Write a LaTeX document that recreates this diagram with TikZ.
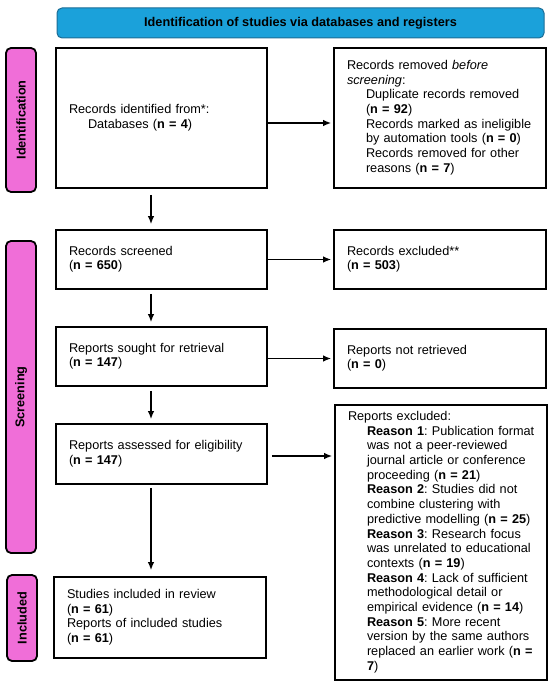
\documentclass[tikz,border=0pt]{standalone}
\usepackage{fontspec}
\setmainfont{Liberation Sans}
\usetikzlibrary{arrows.meta}
\definecolor{hdrblue}{HTML}{1BA1DA}
\definecolor{hdredge}{HTML}{1B6D96}
\definecolor{sidepink}{HTML}{F06ED8}
\newcommand{\ind}{\hspace*{19pt}}
\newcommand{\tb}[1]{\begin{tabular}{@{}l@{}}#1\end{tabular}}
\tikzset{
  txt/.style={font=\fontsize{12.7}{14.7}\selectfont\frenchspacing},
  box/.style={txt, draw=black, line width=1.7pt, fill=white, inner sep=0pt, align=left},
  side/.style={draw=black, line width=1.8pt, fill=sidepink, rounded corners=5pt, rotate=90,
    font=\fontsize{12.7}{14.7}\selectfont\bfseries, inner sep=0pt, minimum height=30pt},
  hdr/.style={draw=hdredge, line width=1pt, fill=hdrblue, rounded corners=5pt,
    font=\fontsize{12.7}{14.7}\selectfont\bfseries, inner sep=0pt},
  arr/.style={line width=1.4pt, -{Latex[length=8pt,width=6.5pt]}}
}
\begin{document}
\begin{tikzpicture}[x=1pt,y=-1pt]
\useasboundingbox (0,0) rectangle (550,687);
% header
\node[hdr, minimum width=487pt, minimum height=30pt] (hdr) at (300.5,23) {Identification of studies via databases and registers};
% side labels
\node[side, minimum width=144pt] (lid) at (21,120) {Identification};
\node[side, minimum width=312pt] (lsc) at (21,397) {Screening};
\node[side, minimum width=86pt] (lin) at (22,618) {Included};
% left column
\node[box, minimum width=211pt, minimum height=140pt, text width=185pt] (b1) at (161.5,118)
  {\tb{Records identified from*:\\\ind Databases (\textbf{n = 4})}};
\node[box, minimum width=211pt, minimum height=59pt, text width=185pt] (b2) at (161.5,259.5)
  {\tb{Records screened\\(\textbf{n = 650})}};
\node[box, minimum width=211pt, minimum height=59pt, text width=185pt] (b3) at (161.5,356.5)
  {\tb{Reports sought for retrieval\\(\textbf{n = 147})}};
\node[box, minimum width=211pt, minimum height=60pt, text width=185pt] (b4) at (161.5,454)
  {\tb{Reports assessed for eligibility\\(\textbf{n = 147})}};
\node[box, minimum width=212pt, minimum height=81pt, text width=186pt] (b5) at (160,617.5)
  {\tb{Studies included in review\\(\textbf{n = 61})\\Reports of included studies\\(\textbf{n = 61})}};
% right column
\node[box, minimum width=212pt, minimum height=140pt, text width=186pt] (r1) at (440,118)
  {\tb{Records removed \textit{before}\\\textit{screening}:\\
   \ind Duplicate records removed\\\ind (\textbf{n = 92})\\
   \ind Records marked as ineligible\\\ind by automation tools (\textbf{n = 0})\\
   \ind Records removed for other\\\ind reasons (\textbf{n = 7})}};
\node[box, minimum width=212pt, minimum height=59pt, text width=186pt] (r2) at (440,259.5)
  {\tb{Records excluded**\\(\textbf{n = 503})}};
\node[box, minimum width=212pt, minimum height=59pt, text width=186pt] (r3) at (440,358.5)
  {\tb{Reports not retrieved\\(\textbf{n = 0})}};
\node[box, minimum width=212pt, minimum height=275pt, text width=186pt] (r4) at (441,542.5)
  {\tb{Reports excluded:\\
   \ind\textbf{Reason 1}: Publication format\\
   \ind was not a peer-reviewed\\
   \ind journal article or conference\\
   \ind proceeding (\textbf{n = 21})\\
   \ind\textbf{Reason 2}: Studies did not\\
   \ind combine clustering with\\
   \ind predictive modelling (\textbf{n = 25})\\
   \ind\textbf{Reason 3}: Research focus\\
   \ind was unrelated to educational\\
   \ind contexts (\textbf{n = 19})\\
   \ind\textbf{Reason 4}: Lack of sufficient\\
   \ind methodological detail or\\
   \ind empirical evidence (\textbf{n = 14})\\
   \ind\textbf{Reason 5}: More recent\\
   \ind version by the same authors\\
   \ind replaced an earlier work (\textbf{n =}\\
   \ind\textbf{7})}};
% vertical arrows
\draw[arr, shorten <=6pt, shorten >=5pt] ([xshift=-10.5pt]b1.south) -- ([xshift=-10.5pt]b2.north);
\draw[arr, shorten <=4pt, shorten >=4pt] ([xshift=-10.5pt]b2.south) -- ([xshift=-10.5pt]b3.north);
\draw[arr, shorten <=4pt, shorten >=4pt] ([xshift=-10.5pt]b3.south) -- ([xshift=-10.5pt]b4.north);
\draw[arr, shorten <=3pt, shorten >=6pt] ([xshift=-10.5pt]b4.south) -- ([xshift=-9pt]b5.north);
% horizontal arrows
\draw[arr, shorten >=2pt] ([yshift=-5pt]b1.east) -- ([yshift=-5pt]b1.east -| r1.west);
\draw[arr, shorten >=2pt] (b2.east) -- (r2.west);
\draw[arr, shorten >=2pt] (b3.east |- r3.west) -- (r3.west);
\draw[arr, shorten <=4pt, shorten >=2pt] ([yshift=-2pt]b4.east) -- ([yshift=-2pt]b4.east -| r4.west);
\end{tikzpicture}
\end{document}
